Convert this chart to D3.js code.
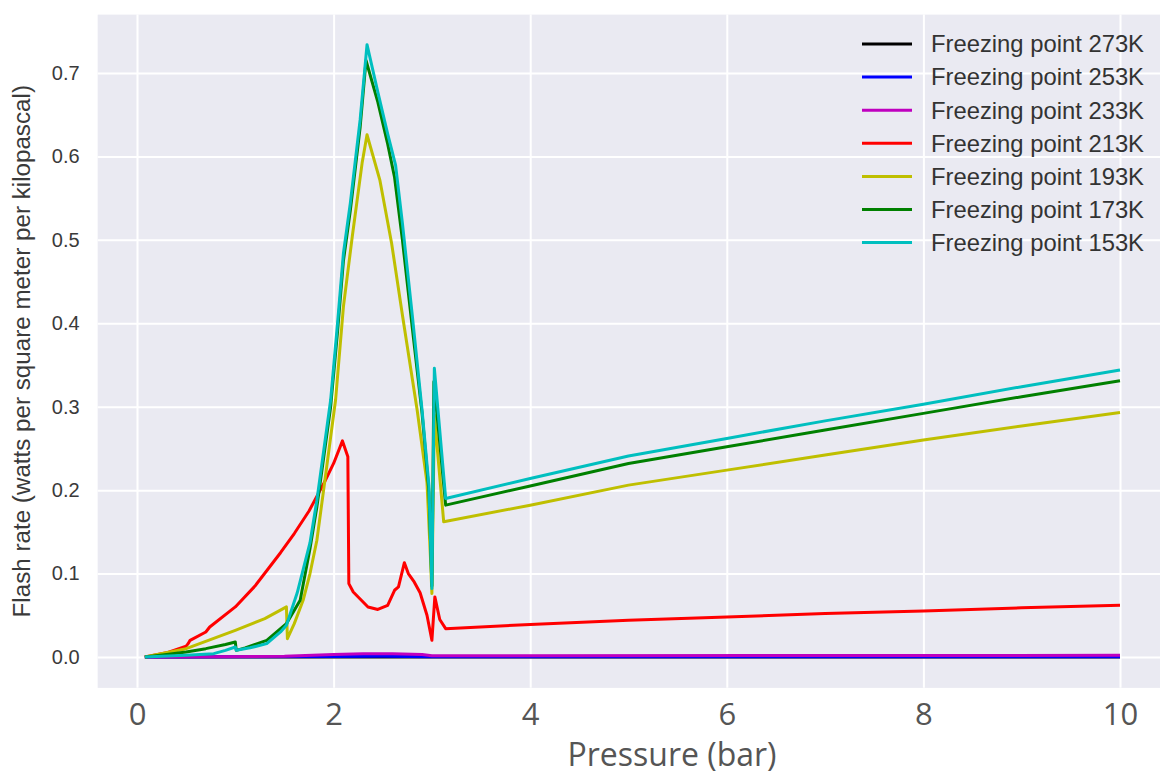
<!DOCTYPE html>
<html>
<head>
<meta charset="utf-8">
<script src="https://cdn.jsdelivr.net/npm/d3@7"></script>
<style>
  html, body { margin: 0; padding: 0; background: #ffffff; }
  svg { display: block; }
</style>
</head>
<body>
<svg id="chart" width="1160" height="774"></svg>
<script>
// ---------------- DATA ----------------
const seriesLabels = ["Freezing point 273K", "Freezing point 253K", "Freezing point 233K",
  "Freezing point 213K", "Freezing point 193K", "Freezing point 173K", "Freezing point 153K"];

const xTicks = [0, 2, 4, 6, 8, 10];
const yTicks = [0.0, 0.1, 0.2, 0.3, 0.4, 0.5, 0.6, 0.7];

const pressure273 = [0.08, 1, 2, 3, 10];
const rate273     = [0, 0, 0, 0, 0];

const pressure253 = [0.08, 1, 2, 2.5, 3, 10];
const rate253     = [0, 0.0002, 0.0006, 0.0008, 0.0004, 0.0004];

const pressure233 = [0.08, 0.7, 1.5, 2.0, 2.3, 2.6, 2.9, 3.0, 3.1, 10];
const rate233     = [0, 0.0003, 0.001, 0.003, 0.004, 0.004, 0.003, 0.0015, 0.0015, 0.002];

const pressure213 = [0.08, 0.3, 0.5, 0.52, 0.54, 0.7, 0.74, 1.0, 1.2, 1.46, 1.6, 1.75, 1.9, 2.0, 2.09,
  2.145, 2.155, 2.2, 2.35, 2.45, 2.55, 2.62, 2.66, 2.72, 2.76, 2.82, 2.88, 2.95, 3.0, 3.03, 3.08, 3.14,
  4, 5, 6, 7, 8, 9, 10];
const rate213     = [0, 0.005, 0.013, 0.016, 0.02, 0.03, 0.036, 0.06, 0.085, 0.125, 0.148, 0.175, 0.208, 0.232, 0.259,
  0.24, 0.088, 0.078, 0.06, 0.057, 0.062, 0.08, 0.084, 0.113, 0.1, 0.09, 0.077, 0.05, 0.02, 0.072, 0.045, 0.034,
  0.039, 0.044, 0.048, 0.052, 0.055, 0.059, 0.062];

const pressure193 = [0.08, 0.5, 1.0, 1.3, 1.52, 1.53, 1.6, 1.69, 1.76, 1.83, 1.93, 2.02, 2.1, 2.19, 2.29, 2.34,
  2.47, 2.59, 2.7, 2.85, 2.95, 2.985, 3.0, 3.025, 3.12, 4, 5, 6, 7, 8, 9, 10];
const rate193     = [0, 0.01, 0.032, 0.046, 0.06, 0.022, 0.04, 0.068, 0.1, 0.14, 0.228, 0.308, 0.42, 0.504, 0.592, 0.626,
  0.572, 0.496, 0.41, 0.296, 0.209, 0.12, 0.076, 0.29, 0.162, 0.182, 0.206, 0.224, 0.242, 0.26, 0.277, 0.293];

const pressure173 = [0.08, 0.3, 0.5, 0.7, 0.9, 1.0, 1.01, 1.1, 1.32, 1.52, 1.66, 1.76, 1.83, 1.9, 1.97, 2.04,
  2.1, 2.17, 2.27, 2.33, 2.45, 2.55, 2.62, 2.7, 2.8, 2.9, 2.97, 3.0, 3.02, 3.14, 4, 5, 6, 7, 8, 9, 10];
const rate173     = [0, 0.003, 0.006, 0.01, 0.015, 0.018, 0.008, 0.011, 0.02, 0.04, 0.068, 0.13, 0.18, 0.24, 0.3, 0.39,
  0.475, 0.535, 0.635, 0.715, 0.665, 0.615, 0.575, 0.5, 0.395, 0.292, 0.198, 0.085, 0.33, 0.182, 0.205, 0.232,
  0.252, 0.272, 0.292, 0.312, 0.331];

const pressure153 = [0.08, 0.5, 0.78, 0.9, 1.0, 1.01, 1.15, 1.32, 1.46, 1.52, 1.63, 1.76, 1.83, 1.9, 1.97, 2.04,
  2.1, 2.17, 2.27, 2.34, 2.45, 2.55, 2.63, 2.7, 2.8, 2.9, 2.97, 3.0, 3.025, 3.14, 4, 5, 6, 7, 8, 9, 10];
const rate153     = [0, 0.002, 0.004, 0.008, 0.012, 0.008, 0.011, 0.016, 0.03, 0.038, 0.077, 0.137, 0.188, 0.248, 0.308, 0.4,
  0.484, 0.544, 0.644, 0.734, 0.677, 0.627, 0.59, 0.52, 0.41, 0.296, 0.205, 0.082, 0.346, 0.19, 0.214, 0.241,
  0.262, 0.283, 0.303, 0.324, 0.344];

const seriesColors = ["#000000", "#0000ff", "#bf00bf", "#ff0000", "#bfbf00", "#008000", "#00bfbf"];

const seriesData = [
  [pressure273, rate273], [pressure253, rate253], [pressure233, rate233], [pressure213, rate213],
  [pressure193, rate193], [pressure173, rate173], [pressure153, rate153]
].map(([px, ry], i) => ({
  label: seriesLabels[i],
  color: seriesColors[i],
  points: px.map((p, j) => ({ x: p, y: ry[j] }))
}));

// ---------------- CHART ----------------
(function () {
const svg = d3.select("#chart");

const x = d3.scaleLinear().domain([0, 10]).range([137, 1120]);
const y = d3.scaleLinear().domain([0, 0.7]).range([657, 73]);

const xMin = -0.4, xMax = 10.5, yMin = -0.037, yMax = 0.77;
const pLeft = x(xMin), pRight = x(xMax), pTop = y(yMax), pBottom = y(yMin);

svg.append("rect")
  .attr("x", pLeft).attr("y", pTop)
  .attr("width", pRight - pLeft).attr("height", pBottom - pTop)
  .attr("fill", "#eaeaf2");

// grid
const gx = svg.append("g").attr("transform", `translate(0,${pBottom})`)
  .call(d3.axisBottom(x).tickValues(xTicks).tickSize(-(pBottom - pTop)).tickFormat(""));
gx.select(".domain").remove();
gx.selectAll("line").attr("stroke", "#ffffff").attr("stroke-width", 2);

const gy = svg.append("g").attr("transform", `translate(${pLeft},0)`)
  .call(d3.axisLeft(y).tickValues(yTicks).tickSize(-(pRight - pLeft)).tickFormat(""));
gy.select(".domain").remove();
gy.selectAll("line").attr("stroke", "#ffffff").attr("stroke-width", 2);

// y tick labels
const yl = svg.append("g").attr("transform", `translate(${pLeft},0)`)
  .call(d3.axisLeft(y).tickValues(yTicks).tickSize(0).tickPadding(18).tickFormat(d3.format(".1f")));
yl.select(".domain").remove();
yl.selectAll("text")
  .attr("font-family", "'Liberation Sans', Arial, sans-serif")
  .attr("font-size", 20).attr("fill", "#3a3a3a");

// x tick labels
const xl = svg.append("g").attr("transform", `translate(0,${pBottom})`)
  .call(d3.axisBottom(x).tickValues(xTicks).tickSize(0).tickPadding(15).tickFormat(d3.format("d")));
xl.select(".domain").remove();
xl.selectAll("text")
  .attr("font-family", "'Open Sans', sans-serif")
  .attr("font-size", 31).attr("fill", "#555555");

// axis titles
svg.append("text")
  .attr("x", 672).attr("y", 766)
  .attr("text-anchor", "middle")
  .attr("font-family", "'Open Sans', sans-serif")
  .attr("font-size", 32).attr("fill", "#555555")
  .text("Pressure (bar)");

svg.append("text")
  .attr("transform", `translate(30,${(pTop + pBottom) / 2}) rotate(-90)`)
  .attr("text-anchor", "middle")
  .attr("font-family", "'Liberation Sans', Arial, sans-serif")
  .attr("font-size", 24.2).attr("fill", "#3a3a3a")
  .text("Flash rate (watts per square meter per kilopascal)");

// lines
const line = d3.line().x(d => x(d.x)).y(d => y(d.y));
svg.append("g").selectAll("path").data(seriesData).join("path")
  .attr("d", d => line(d.points))
  .attr("fill", "none")
  .attr("stroke", d => d.color)
  .attr("stroke-width", 3)
  .attr("stroke-linejoin", "round")
  .attr("stroke-linecap", "butt");

// legend
const legend = svg.append("g");
const legY0 = 44, legDy = 33.1;
seriesData.forEach((s, i) => {
  const yy = legY0 + i * legDy;
  legend.append("line")
    .attr("x1", 862).attr("x2", 912).attr("y1", yy).attr("y2", yy)
    .attr("stroke", s.color).attr("stroke-width", 3);
  legend.append("text")
    .attr("x", 931).attr("y", yy).attr("dy", "0.35em")
    .attr("font-family", "'Liberation Sans', Arial, sans-serif")
    .attr("font-size", 23.8).attr("fill", "#333333")
    .text(s.label);
});
})();
</script>
</body>
</html>
